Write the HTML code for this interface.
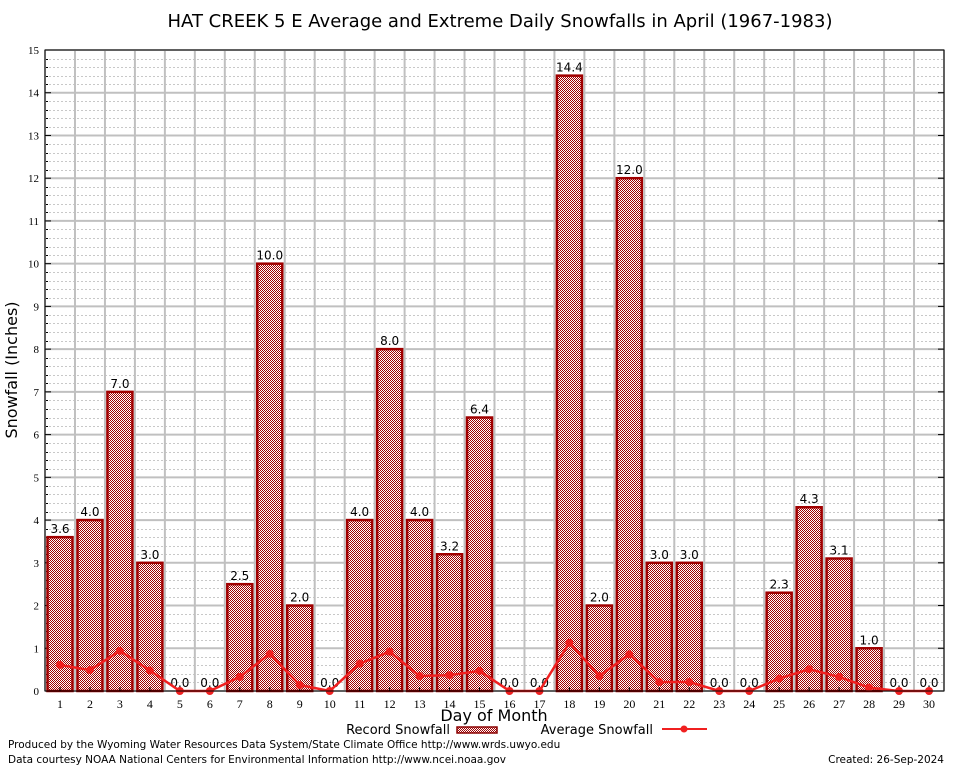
<!DOCTYPE html>
<html><head><meta charset="utf-8"><style>
body{margin:0;background:#fff;}
svg{display:block;font-family:"DejaVu Sans","Liberation Sans",sans-serif;}
</style></head><body>
<svg id="c" width="954" height="768">
<defs>
<pattern id="chk" width="2" height="2" patternUnits="userSpaceOnUse">
<rect width="2" height="2" fill="#fff"/>
<rect width="1" height="1" fill="#a00000"/><rect x="1" y="1" width="1" height="1" fill="#a00000"/>
</pattern>
</defs>
<text x="500" y="27" font-size="18" text-anchor="middle">HAT CREEK 5 E Average and Extreme Daily Snowfalls in April (1967-1983)</text>
<g id="plot"></g>
<text x="17" y="370" font-size="16" text-anchor="middle" transform="rotate(-90 17 370)">Snowfall (Inches)</text>
<text x="494" y="721" font-size="16" text-anchor="middle">Day of Month</text>
<g>
<text x="450" y="734" font-size="13" text-anchor="end">Record Snowfall</text>
<rect x="457" y="727" width="40" height="6" fill="url(#chk)" stroke="#8b0000" stroke-width="1.5"/>
<text x="653" y="734" font-size="13" text-anchor="end">Average Snowfall</text>
<line x1="662" y1="729" x2="707" y2="729" stroke="#f02020" stroke-width="2"/>
<circle cx="684" cy="729" r="3.5" fill="#f02020"/>
</g>
<text x="8" y="748" font-size="10.5">Produced by the Wyoming Water Resources Data System/State Climate Office http://www.wrds.uwyo.edu</text>
<text x="8" y="763" font-size="10.5">Data courtesy NOAA National Centers for Environmental Information http://www.ncei.noaa.gov</text>
<text x="944" y="763" font-size="10.5" text-anchor="end">Created: 26-Sep-2024</text>
</svg>
<script>
const days=[1,2,3,4,5,6,7,8,9,10,11,12,13,14,15,16,17,18,19,20,21,22,23,24,25,26,27,28,29,30];
const recordValues=[3.6,4.0,7.0,3.0,0.0,0.0,2.5,10.0,2.0,0.0,4.0,8.0,4.0,3.2,6.4,0.0,0.0,14.4,2.0,12.0,3.0,3.0,0.0,0.0,2.3,4.3,3.1,1.0,0.0,0.0];
const averageValues=[0.61,0.49,0.94,0.48,0,0,0.33,0.87,0.14,0,0.64,0.92,0.35,0.37,0.47,0,0,1.13,0.35,0.86,0.21,0.21,0,0,0.29,0.51,0.33,0.08,0,0];
const yTicks=[0,1,2,3,4,5,6,7,8,9,10,11,12,13,14,15];
const NS="http://www.w3.org/2000/svg";
const L=45,R=944,T=50,B=691;
const x=d=>60+(d-1)*(929-60)/29;
const y=v=>B-(v/15)*(B-T);
const g=document.getElementById('plot');
function mk(t,a,p){const e=document.createElementNS(NS,t);for(const k in a)e.setAttribute(k,a[k]);(p||g).appendChild(e);return e;}
for(let m=0;m<75;m++){if(m%5===0)continue;const yy=Math.round(y(m/5))+0.5;
 mk('line',{x1:L,y1:yy,x2:R,y2:yy,stroke:'#c8c8c8','stroke-width':1,'stroke-dasharray':'2,2'});
 mk('line',{x1:L,y1:yy,x2:L+3,y2:yy,stroke:'#000'});}
for(let i=0;i<=30;i++){const gx=x(i+0.5);if(gx<R)mk('line',{x1:gx,y1:T,x2:gx,y2:B,stroke:'#c0c0c0','stroke-width':2});}
yTicks.forEach(t=>{
 mk('line',{x1:L,y1:y(t),x2:R,y2:y(t),stroke:'#c0c0c0','stroke-width':2});
 mk('line',{x1:L,y1:y(t),x2:L+6,y2:y(t),stroke:'#000'});
 mk('line',{x1:R-6,y1:y(t),x2:R,y2:y(t),stroke:'#000'});
 const tx=mk('text',{x:L-6,y:y(t)+4,'font-size':11,'text-anchor':'end','font-family':'Liberation Serif, serif'});
 tx.textContent=t;
 
 
});
days.forEach((d,i)=>{
 const v=recordValues[i];
 if(v>0){
  const b=mk('rect',{x:x(d)-12.5,y:y(v),width:25,height:B-y(v),fill:'url(#chk)',stroke:'#a00000','stroke-width':2.5});
  
  
 }
 const lb=mk('text',{x:x(d),y:y(v)-4,'font-size':12,'text-anchor':'middle'});
 lb.textContent=v.toFixed(1);
 
 
 const xt=mk('text',{x:x(d),y:B+17,'font-size':12,'text-anchor':'middle','font-family':'Liberation Serif, serif'});
 xt.textContent=d;
 
 
 mk('line',{x1:x(d),y1:B,x2:x(d),y2:B-4,stroke:'#000'});
});
const pl=mk('polyline',{points:days.map((d,i)=>x(d)+','+y(averageValues[i])).join(' '),fill:'none',stroke:'#f02020','stroke-width':2.5});


days.forEach((d,i)=>{
 const c=mk('circle',{cx:x(d),cy:y(averageValues[i]),r:4,fill:'#f02020'});
 
 
});
const fr=mk('rect',{x:L,y:T,width:R-L,height:B-T,fill:'none',stroke:'#000','stroke-width':1});


</script>
</body></html>
